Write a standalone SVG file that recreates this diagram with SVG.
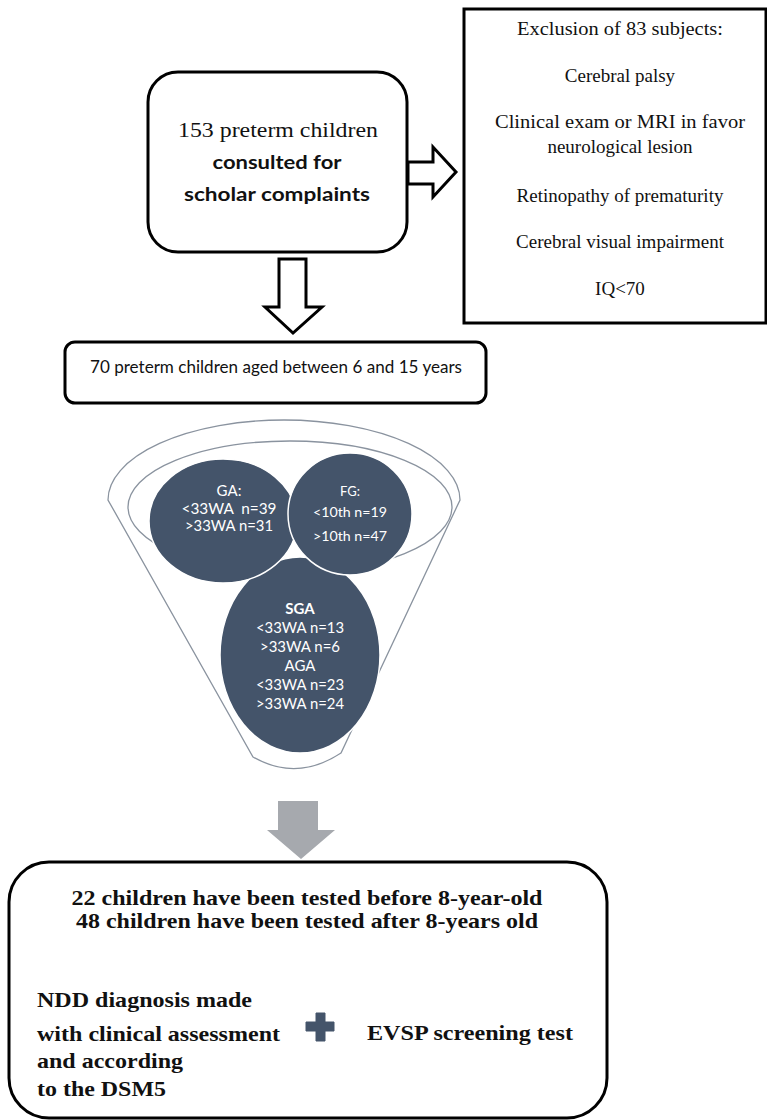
<svg xmlns="http://www.w3.org/2000/svg" width="767" height="1120" viewBox="0 0 767 1120">
<style>
.box{fill:#fff;stroke:#000;stroke-width:3}
.arr{fill:#fff;stroke:#000;stroke-width:3;stroke-linejoin:miter}
.serif{font-family:"Liberation Serif","Times New Roman",serif;fill:#111}
.sans{font-family:"Lato","Liberation Sans",sans-serif;fill:#111}
.wt{font-family:"Lato","Liberation Sans",sans-serif;fill:#fff;text-anchor:middle}
.blob{fill:#44546a;stroke:#fff;stroke-width:1.5}
.fun{fill:#fff;stroke:#8a939f;stroke-width:1.3}
.bb{font-family:"Liberation Serif","Times New Roman",serif;font-weight:bold;font-size:21px;fill:#111}
.ex{font-size:19px;text-anchor:middle}
</style>
<rect width="767" height="1120" fill="#fff"/>
<g id="connectors">
<path class="arr" d="M408,162 H433 V147 L456,172 L433,197 V184 H408 Z"/>
<path class="arr" d="M279,259 H306 V307 H322 L293,333 L265,307 H279 Z"/>
<path d="M278,801 H318 V830 H335 L301,859 L267,830 H278 Z" fill="#a6a9ae"/>
</g>
<g id="node-start">
<rect class="box" x="148" y="72" width="259" height="180" rx="30"/>
<text class="serif" x="278" y="137" font-size="20" text-anchor="middle" textLength="200" lengthAdjust="spacingAndGlyphs">153 preterm children</text>
<text class="sans" x="277" y="169" font-size="19" font-weight="bold" text-anchor="middle" textLength="129" lengthAdjust="spacingAndGlyphs">consulted for</text>
<text class="sans" x="277" y="201" font-size="19" font-weight="bold" text-anchor="middle" textLength="186" lengthAdjust="spacingAndGlyphs">scholar complaints</text>
</g>
<g id="node-exclusion">
<rect class="box" x="464" y="9" width="302" height="314"/>
<g class="serif ex">
<text x="620" y="35" textLength="206" lengthAdjust="spacingAndGlyphs">Exclusion of 83 subjects:</text>
<text x="620" y="82">Cerebral palsy</text>
<text x="620" y="128" textLength="250" lengthAdjust="spacingAndGlyphs">Clinical exam or MRI in favor</text>
<text x="620" y="153">neurological lesion</text>
<text x="620" y="202">Retinopathy of prematurity</text>
<text x="620" y="248">Cerebral visual impairment</text>
<text x="620" y="295">IQ&lt;70</text>
</g>
</g>
<g id="node-70">
<rect class="box" x="65" y="342" width="421" height="61" rx="10"/>
<text class="sans" x="90" y="373" font-size="18" textLength="372" lengthAdjust="spacingAndGlyphs">70 preterm children aged between 6 and 15 years</text>
</g>
<g id="node-funnel">
<path class="fun" d="M108,500 A176,80 0 0 1 460,500 L341,753 Q297,782 253,757 Z"/>
<ellipse class="fun" cx="290" cy="507" rx="162" ry="66"/>
</g>
<g id="node-sga">
<ellipse class="blob" cx="300" cy="655" rx="80" ry="98"/>
<text class="wt" x="300" y="614" font-size="15" font-weight="bold">SGA</text>
<text class="wt" x="300" y="633" font-size="15" textLength="88" lengthAdjust="spacingAndGlyphs">&lt;33WA n=13</text>
<text class="wt" x="300" y="652" font-size="15" textLength="80" lengthAdjust="spacingAndGlyphs">&gt;33WA n=6</text>
<text class="wt" x="300" y="671" font-size="15">AGA</text>
<text class="wt" x="300" y="690" font-size="15" textLength="88" lengthAdjust="spacingAndGlyphs">&lt;33WA n=23</text>
<text class="wt" x="300" y="709" font-size="15" textLength="88" lengthAdjust="spacingAndGlyphs">&gt;33WA n=24</text>
</g>
<g id="node-ga">
<ellipse class="blob" cx="223" cy="521" rx="74" ry="62"/>
<text class="wt" x="229" y="496" font-size="15">GA:</text>
<text class="wt" x="229" y="514" font-size="15" textLength="95" lengthAdjust="spacingAndGlyphs" style="white-space:pre">&lt;33WA  n=39</text>
<text class="wt" x="229" y="531" font-size="15" textLength="88" lengthAdjust="spacingAndGlyphs">&gt;33WA n=31</text>
</g>
<g id="node-fg">
<ellipse class="blob" cx="350" cy="514" rx="62" ry="61"/>
<text class="wt" x="350" y="496" font-size="13">FG:</text>
<text class="wt" x="350" y="517" font-size="14" textLength="74" lengthAdjust="spacingAndGlyphs">&lt;10th n=19</text>
<text class="wt" x="350" y="541" font-size="14" textLength="74" lengthAdjust="spacingAndGlyphs">&gt;10th n=47</text>
</g>
<g id="node-result">
<rect class="box" x="9" y="862" width="598" height="256" rx="40"/>
<text class="bb" x="307" y="905" font-size="20" text-anchor="middle" textLength="471" lengthAdjust="spacingAndGlyphs">22 children have been tested before 8-year-old</text>
<text class="bb" x="307" y="928" font-size="20" text-anchor="middle" textLength="462" lengthAdjust="spacingAndGlyphs">48 children have been tested after 8-years old</text>
<text class="bb" x="37" y="1007" textLength="215" lengthAdjust="spacingAndGlyphs">NDD diagnosis made</text>
<text class="bb" x="37" y="1041" textLength="243" lengthAdjust="spacingAndGlyphs">with clinical assessment</text>
<text class="bb" x="37" y="1068" textLength="146" lengthAdjust="spacingAndGlyphs">and according</text>
<text class="bb" x="37" y="1096" textLength="129" lengthAdjust="spacingAndGlyphs">to the DSM5</text>
<path d="M316,1013 H325 V1022 H334 V1031 H325 V1041 H316 V1031 H306 V1022 H316 Z" fill="#44546a" stroke="#44546a" stroke-width="1" stroke-linejoin="round"/>
<text class="bb" x="367" y="1040" textLength="206" lengthAdjust="spacingAndGlyphs">EVSP screening test</text>
</g>
</svg>
